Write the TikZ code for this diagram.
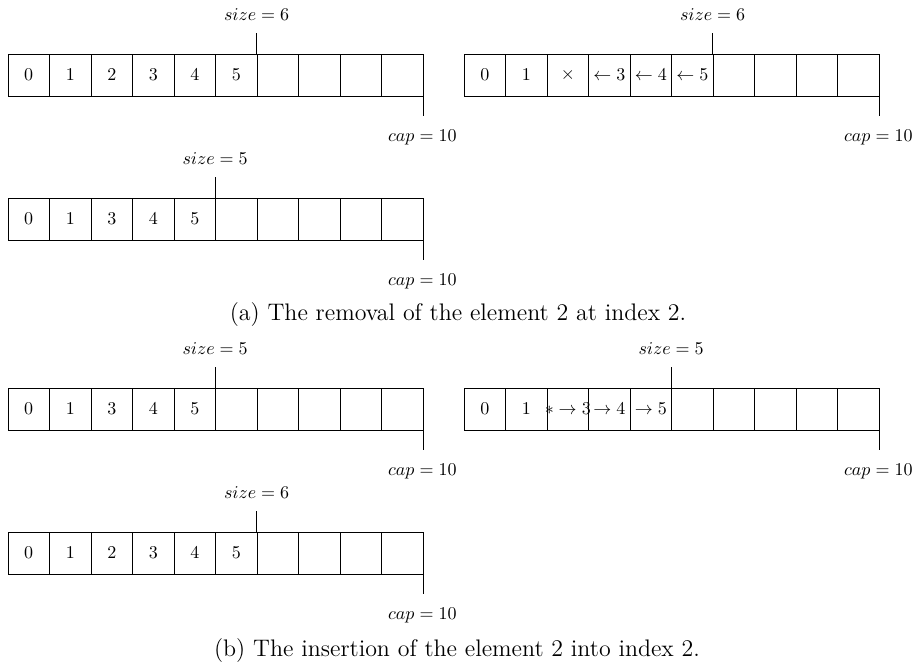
\documentclass[tikz,border=0pt]{standalone}
\tikzset{
  cell/.style={draw, inner sep=0pt, minimum width=23.06pt, minimum height=23.33pt},
  celltext/.style={inner sep=0pt},
  lbl/.style={inner sep=0pt, anchor=base},
  captext/.style={inner sep=0pt, anchor=base, font=\fontsize{13.3}{15}\selectfont}
}
\newcommand\drawarr[6]{%
  \foreach \t [count=\i from 0] in {#4} {
    \node[cell] (#1-\i) at ({#2+41.5*(\i+0.5)},{#3+21}) {};
    \node[celltext] (#1-t\i) at (#1-\i.center) {$\t$};
  }
  \draw (#1-#5.north west) -- ++(0,-21) coordinate (#1-stop);
  \node[lbl] (#1-size) at ($(#1-#5.north west)+(0,-33)$) {$size=#6$};
  \draw (#1-9.south east) -- ++(0,20) coordinate (#1-cend);
  \node[lbl] (#1-cap) at ($(#1-9.south east)+(-1,45)$) {$cap=10$};
}
\usetikzlibrary{calc}
\begin{document}
\begin{tikzpicture}[x=0.5556pt, y=-0.5556pt]
\useasboundingbox (0,0) rectangle (916,668);
\drawarr{a1}{8}{54}{0,1,2,3,4,5,{},{},{},{}}{6}{6}
\drawarr{a2}{464}{54}{0,1,\times,\leftarrow 3,\leftarrow 4,\leftarrow 5,{},{},{},{}}{6}{6}
\drawarr{a3}{8}{198}{0,1,3,4,5,{},{},{},{},{}}{5}{5}
\node[captext] (capa) at (458,320) {(a) The removal of the element 2 at index 2.};
\drawarr{b1}{8}{388}{0,1,3,4,5,{},{},{},{},{}}{5}{5}
\drawarr{b2}{464}{388}{0,1,*\to 3,\to 4,\to 5,{},{},{},{},{}}{5}{5}
\drawarr{b3}{8}{532}{0,1,2,3,4,5,{},{},{},{}}{6}{6}
\node[captext] (capb) at (457,656) {(b) The insertion of the element 2 into index 2.};
\end{tikzpicture}
\end{document}
